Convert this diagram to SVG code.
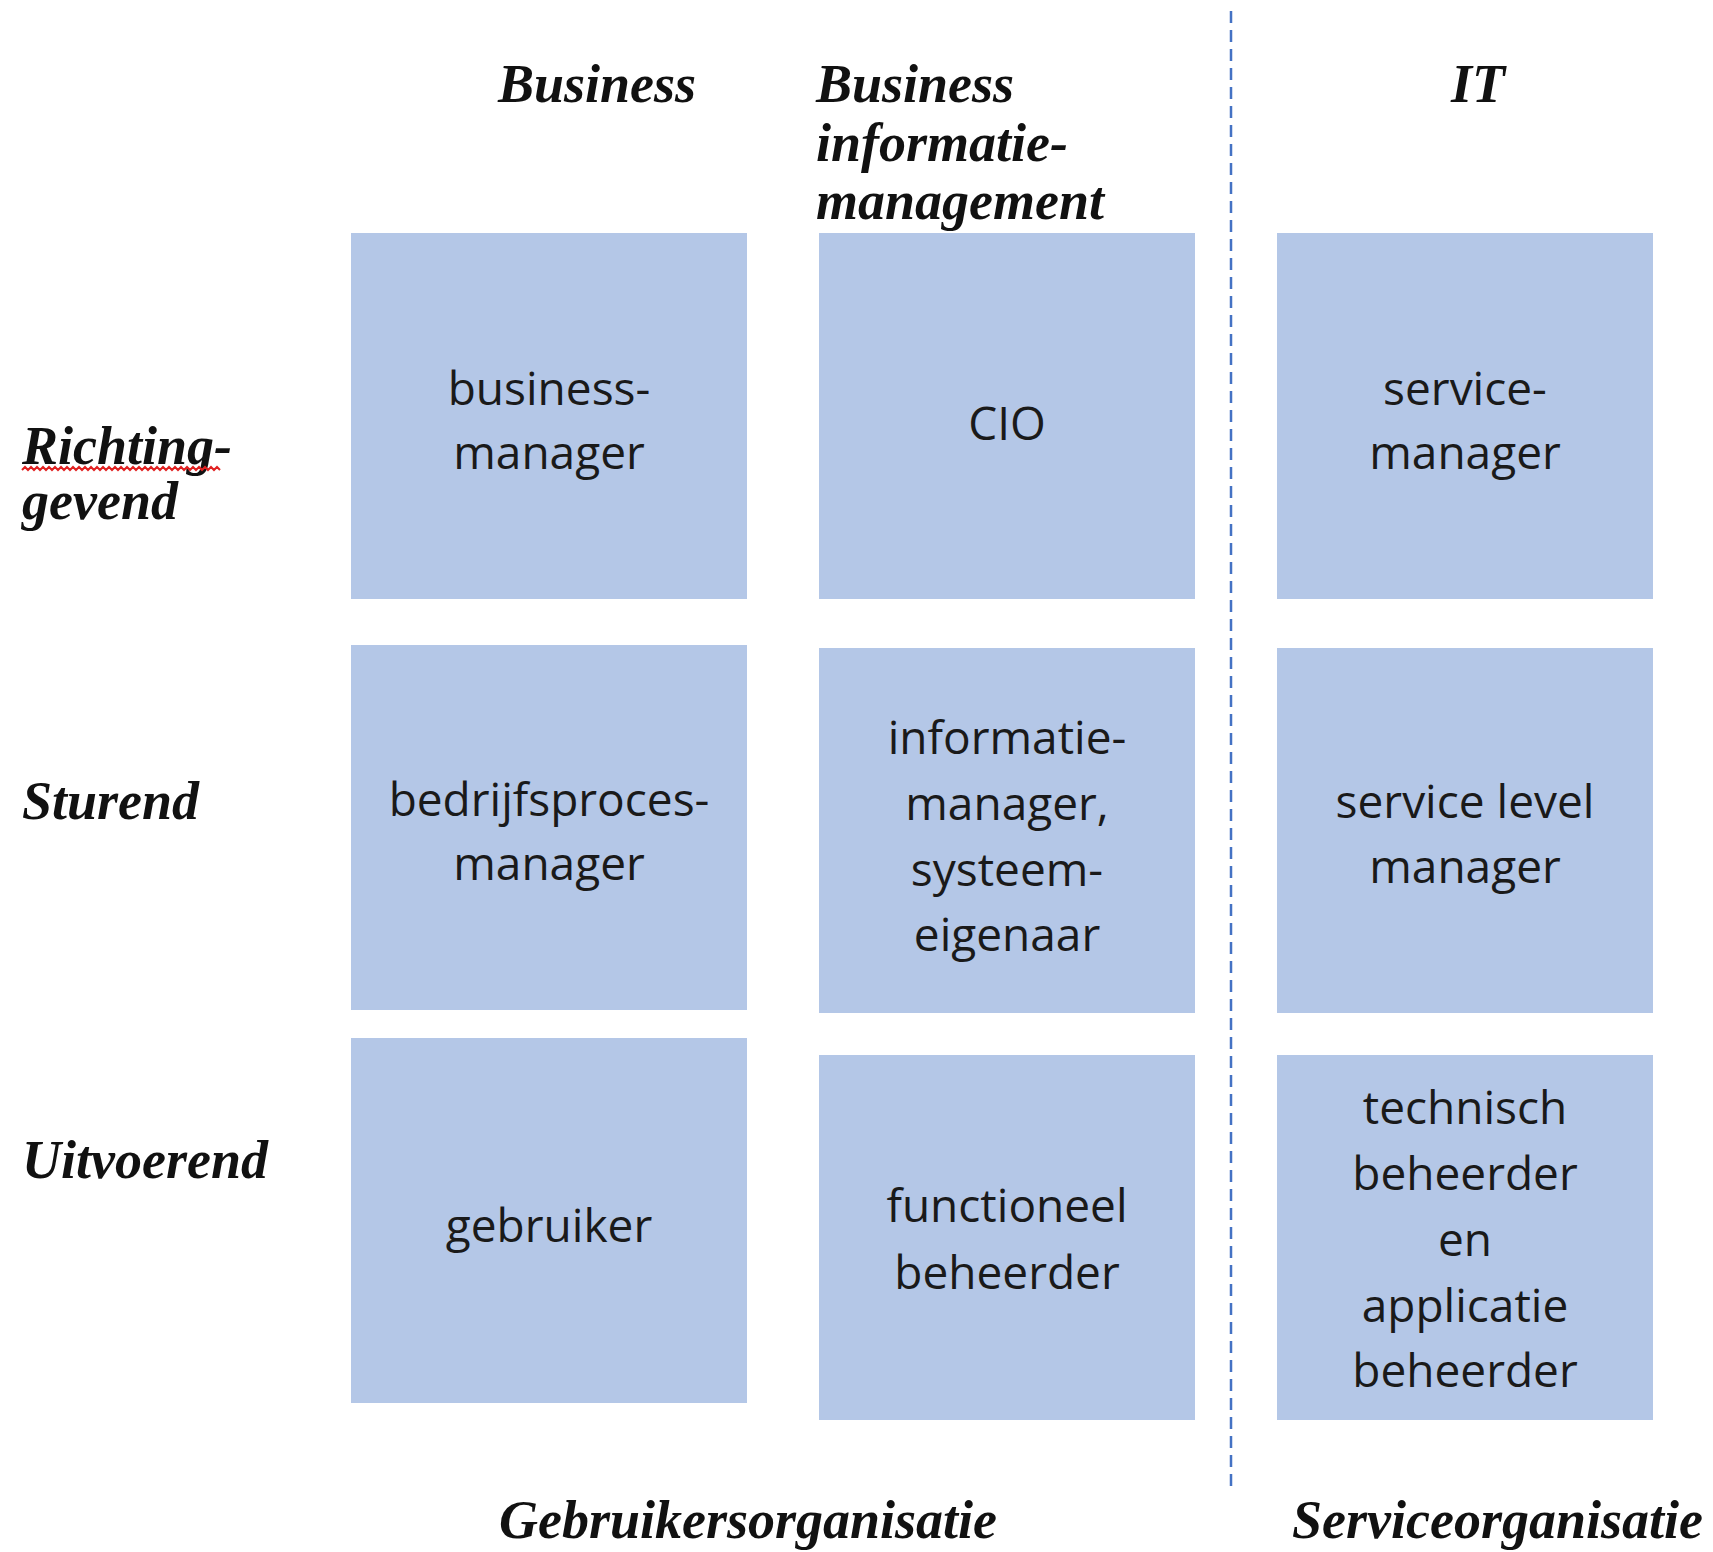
<svg xmlns="http://www.w3.org/2000/svg" width="1713" height="1552" viewBox="0 0 1713 1552">
<style>
.box{fill:#B4C7E7}
.bt{font-family:"Open Sans","Noto Sans",sans-serif;font-size:46px;fill:#1a1a1a;text-anchor:middle}
.hd{font-family:"Liberation Serif",serif;font-size:54px;font-weight:bold;font-style:italic;fill:#111}
.div{stroke:#4472C4;stroke-width:2.5;stroke-dasharray:12 7;fill:none}
</style>
<rect width="1713" height="1552" fill="#fff"/>
<g id="headers">
<text class="hd" x="498" y="102">Business</text>
<text class="hd" x="816" y="102">Business</text>
<text class="hd" x="816" y="161">informatie-</text>
<text class="hd" x="816" y="219">management</text>
<text class="hd" x="1451" y="102">IT</text>
<text class="hd" x="22" y="464">Richting-</text>
<path d="M22,470 l3,-3 l3,3 l3,-3 l3,3 l3,-3 l3,3 l3,-3 l3,3 l3,-3 l3,3 l3,-3 l3,3 l3,-3 l3,3 l3,-3 l3,3 l3,-3 l3,3 l3,-3 l3,3 l3,-3 l3,3 l3,-3 l3,3 l3,-3 l3,3 l3,-3 l3,3 l3,-3 l3,3 l3,-3 l3,3 l3,-3 l3,3 l3,-3 l3,3 l3,-3 l3,3 l3,-3 l3,3 l3,-3 l3,3 l3,-3 l3,3 l3,-3 l3,3 l3,-3 l3,3 l3,-3 l3,3 l3,-3 l3,3 l3,-3 l3,3 l3,-3 l3,3 l3,-3 l3,3 l3,-3 l3,3 l3,-3 l3,3 l3,-3 l3,3 l3,-3 l3,3" fill="none" stroke="#e02020" stroke-width="2"/>
<text class="hd" x="22" y="519">gevend</text>
<text class="hd" x="22" y="819">Sturend</text>
<text class="hd" x="22" y="1178">Uitvoerend</text>
<text class="hd" x="499" y="1538">Gebruikersorganisatie</text>
<text class="hd" x="1292" y="1538">Serviceorganisatie</text>
</g>
<g id="connectors">
<line class="div" x1="1231" y1="11" x2="1231" y2="1486"/>
</g>
<g id="n-business-manager">
<rect class="box" x="351" y="233" width="396" height="366"/>
<text class="bt" x="549" y="405">business-</text>
<text class="bt" x="549" y="469">manager</text>
</g>
<g id="n-cio">
<rect class="box" x="819" y="233" width="376" height="366"/>
<text class="bt" x="1007" y="440">CIO</text>
</g>
<g id="n-service-manager">
<rect class="box" x="1277" y="233" width="376" height="366"/>
<text class="bt" x="1465" y="405">service-</text>
<text class="bt" x="1465" y="469">manager</text>
</g>
<g id="n-bedrijfsprocesmanager">
<rect class="box" x="351" y="645" width="396" height="365"/>
<text class="bt" x="549" y="816">bedrijfsproces-</text>
<text class="bt" x="549" y="880">manager</text>
</g>
<g id="n-informatiemanager">
<rect class="box" x="819" y="648" width="376" height="365"/>
<text class="bt" x="1007" y="754">informatie-</text>
<text class="bt" x="1007" y="820">manager,</text>
<text class="bt" x="1007" y="886">systeem-</text>
<text class="bt" x="1007" y="951">eigenaar</text>
</g>
<g id="n-service-level-manager">
<rect class="box" x="1277" y="648" width="376" height="365"/>
<text class="bt" x="1465" y="818">service level</text>
<text class="bt" x="1465" y="883">manager</text>
</g>
<g id="n-gebruiker">
<rect class="box" x="351" y="1038" width="396" height="365"/>
<text class="bt" x="549" y="1242">gebruiker</text>
</g>
<g id="n-functioneel-beheerder">
<rect class="box" x="819" y="1055" width="376" height="365"/>
<text class="bt" x="1007" y="1222">functioneel</text>
<text class="bt" x="1007" y="1289">beheerder</text>
</g>
<g id="n-technisch-beheerder">
<rect class="box" x="1277" y="1055" width="376" height="365"/>
<text class="bt" x="1465" y="1124">technisch</text>
<text class="bt" x="1465" y="1190">beheerder</text>
<text class="bt" x="1465" y="1256">en</text>
<text class="bt" x="1465" y="1322">applicatie</text>
<text class="bt" x="1465" y="1387">beheerder</text>
</g>
</svg>
